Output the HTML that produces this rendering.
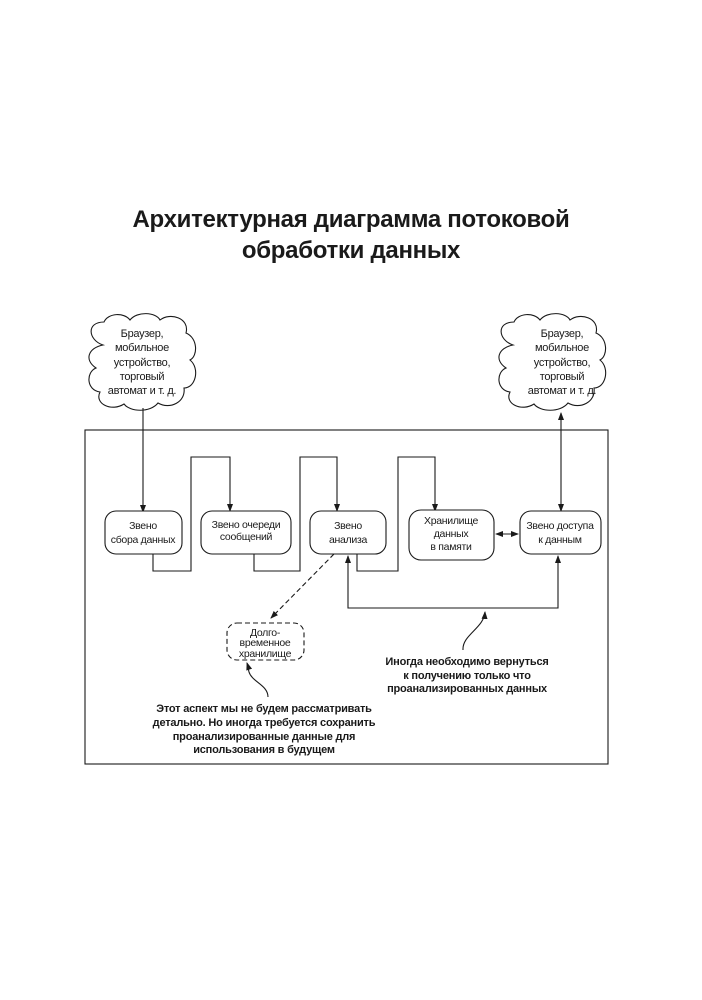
<!DOCTYPE html>
<html><head><meta charset="utf-8"><style>
html,body{margin:0;padding:0;background:#fff;}
svg{display:block;}
text{font-family:"Liberation Sans",sans-serif;fill:#1a1a1a;}
</style></head><body>
<svg width="702" height="1000" viewBox="0 0 702 1000" xmlns="http://www.w3.org/2000/svg">
<defs>
<marker id="a" markerWidth="8" markerHeight="8" refX="7" refY="4" orient="auto" markerUnits="userSpaceOnUse"><path d="M0,1 L8,4 L0,7 Z" fill="#1a1a1a"/></marker>
<marker id="as" markerWidth="8" markerHeight="8" refX="1" refY="4" orient="auto" markerUnits="userSpaceOnUse"><path d="M8,1 L0,4 L8,7 Z" fill="#1a1a1a"/></marker>
</defs>
<text x="351" y="227" font-size="24" font-weight="bold" text-anchor="middle" letter-spacing="-0.3">Архитектурная диаграмма потоковой</text>
<text x="351" y="258" font-size="24" font-weight="bold" text-anchor="middle" letter-spacing="-0.3">обработки данных</text>

<g fill="#fff" stroke="#1a1a1a" stroke-width="1.1">
<path d="M103,345 C88,340 86,322 104,322 C108,313 124,312 130,320 C137,311 156,312 160,320 C170,312 190,318 186,333 C198,338 198,356 190,360 C200,368 196,388 184,388 C186,402 170,410 158,403 C150,413 130,412 124,404 C112,412 94,404 100,392 C86,390 86,372 96,368 C84,360 88,348 103,345 Z"/>
<path d="M513,345 C498,340 496,322 514,322 C518,313 534,312 540,320 C547,311 566,312 570,320 C580,312 600,318 596,333 C608,338 608,356 600,360 C610,368 606,388 594,388 C596,402 580,410 568,403 C560,413 540,412 534,404 C522,412 504,404 510,392 C496,390 496,372 506,368 C494,360 498,348 513,345 Z"/>
</g>
<g font-size="11" text-anchor="middle" letter-spacing="-0.3">
<text x="142" y="337">Браузер,</text><text x="142" y="351">мобильное</text><text x="142" y="366">устройство,</text><text x="142" y="380">торговый</text><text x="142" y="394">автомат и т. д.</text>
<text x="562" y="337">Браузер,</text><text x="562" y="351">мобильное</text><text x="562" y="366">устройство,</text><text x="562" y="380">торговый</text><text x="562" y="394">автомат и т. д.</text>
</g>

<rect x="85" y="430" width="523" height="334" fill="none" stroke="#1a1a1a" stroke-width="1.1"/>

<g fill="none" stroke="#1a1a1a" stroke-width="1.1">
<line x1="143" y1="408" x2="143" y2="512" marker-end="url(#a)"/>
<polyline points="153,554 153,571 191,571 191,457 230,457 230,511" marker-end="url(#a)"/>
<polyline points="254,554 254,571 300,571 300,457 337,457 337,511" marker-end="url(#a)"/>
<polyline points="357,554 357,571 398,571 398,457 435,457 435,511" marker-end="url(#a)"/>
<line x1="496" y1="534" x2="518" y2="534" marker-start="url(#as)" marker-end="url(#a)"/>
<line x1="561" y1="413" x2="561" y2="511" marker-start="url(#as)" marker-end="url(#a)"/>
<polyline points="348,556 348,608 558,608 558,556" marker-start="url(#as)" marker-end="url(#a)"/>
<line x1="334" y1="554" x2="271" y2="618" stroke-dasharray="5,3" marker-end="url(#a)"/>
<path d="M268,697 C268,685 252,682 249,672 C248,668 248,666 247,663" marker-end="url(#a)"/>
<path d="M463,650 C462,635 484,628 485,612" marker-end="url(#a)"/>
</g>

<g fill="#fff" stroke="#1a1a1a" stroke-width="1.1">
<rect x="105" y="511" width="77" height="43" rx="11"/>
<rect x="201" y="511" width="90" height="43" rx="11"/>
<rect x="310" y="511" width="76" height="43" rx="11"/>
<rect x="409" y="510" width="85" height="50" rx="12"/>
<rect x="520" y="511" width="81" height="43" rx="11"/>
<rect x="227" y="623" width="77" height="37" rx="10" stroke-dasharray="5,3"/>
</g>
<g font-size="10.5" text-anchor="middle" letter-spacing="-0.3">
<text x="143" y="529">Звено</text><text x="143" y="543">сбора данных</text>
<text x="246" y="528">Звено очереди</text><text x="246" y="540">сообщений</text>
<text x="348" y="529">Звено</text><text x="348" y="543">анализа</text>
<text x="451" y="524">Хранилище</text><text x="451" y="537">данных</text><text x="451" y="550">в памяти</text>
<text x="560" y="529">Звено доступа</text><text x="560" y="543">к данным</text>
<text x="265" y="636">Долго-</text><text x="265" y="646">временное</text><text x="265" y="657">хранилище</text>
</g>
<g font-size="11" font-weight="bold" text-anchor="middle" letter-spacing="-0.2">
<text x="467" y="665">Иногда необходимо вернуться</text>
<text x="467" y="679">к получению только что</text>
<text x="467" y="692">проанализированных данных</text>
<text x="264" y="712">Этот аспект мы не будем рассматривать</text>
<text x="264" y="726">детально. Но иногда требуется сохранить</text>
<text x="264" y="740">проанализированные данные для</text>
<text x="264" y="753">использования в будущем</text>
</g>
</svg>
</body></html>
